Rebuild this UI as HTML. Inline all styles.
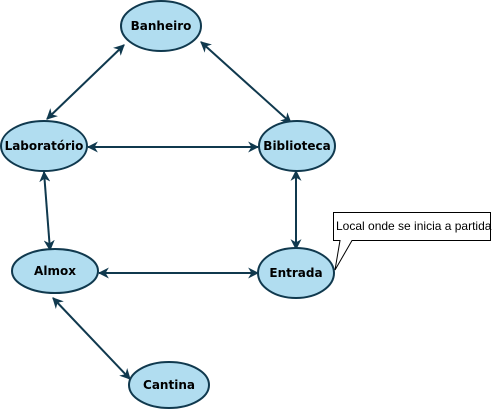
<!DOCTYPE html>
<html><head><style>body{margin:0;background:#fff}</style></head><body>
<svg width="494" height="412" viewBox="0 0 494 412" xmlns="http://www.w3.org/2000/svg">
<defs>
<marker id="a" viewBox="0 0 10 10" refX="9" refY="5" markerWidth="11" markerHeight="11" orient="auto-start-reverse" markerUnits="userSpaceOnUse">
<path d="M0,0 L10,5 L0,10 L3,5 Z" fill="#10394e"/></marker>
</defs>
<g stroke="#10394e" stroke-width="2" fill="none">
<line x1="124" y1="45" x2="47" y2="119" marker-start="url(#a)" marker-end="url(#a)"/>
<line x1="201" y1="42" x2="291" y2="123" marker-start="url(#a)" marker-end="url(#a)"/>
<line x1="88" y1="147" x2="258" y2="147" marker-start="url(#a)" marker-end="url(#a)"/>
<line x1="44" y1="172" x2="50" y2="250" marker-start="url(#a)" marker-end="url(#a)"/>
<line x1="296" y1="171" x2="296" y2="249" marker-start="url(#a)" marker-end="url(#a)"/>
<line x1="99" y1="273" x2="258" y2="273" marker-start="url(#a)" marker-end="url(#a)"/>
<line x1="53" y1="298" x2="130" y2="379" marker-start="url(#a)" marker-end="url(#a)"/>
</g>
<g fill="#b1ddf0" stroke="#10394e" stroke-width="2">
<ellipse cx="161" cy="26" rx="40" ry="25"/>
<ellipse cx="44" cy="146" rx="43" ry="25"/>
<ellipse cx="297" cy="146" rx="38" ry="25"/>
<ellipse cx="55" cy="271" rx="43" ry="22"/>
<ellipse cx="296" cy="273" rx="38" ry="25"/>
<ellipse cx="169" cy="385" rx="40" ry="23"/>
</g>
<g font-family="DejaVu Sans, sans-serif" font-weight="bold" font-size="12" fill="#000" text-anchor="middle">
<text x="161" y="30">Banheiro</text>
<text x="44" y="150">Laboratório</text>
<text x="297" y="150">Biblioteca</text>
<text x="55" y="275">Almox</text>
<text x="296" y="277">Entrada</text>
<text x="169" y="389">Cantina</text>
</g>
<path d="M333.5,212.5 H490.5 V240.5 H352 L335,270 L340,240.5 H333.5 Z" fill="#fff" stroke="#000" stroke-width="1"/>
<text x="336" y="230" font-family="Liberation Sans, sans-serif" font-size="12" fill="#000">Local onde se inicia a partida</text>
</svg>
</body></html>
